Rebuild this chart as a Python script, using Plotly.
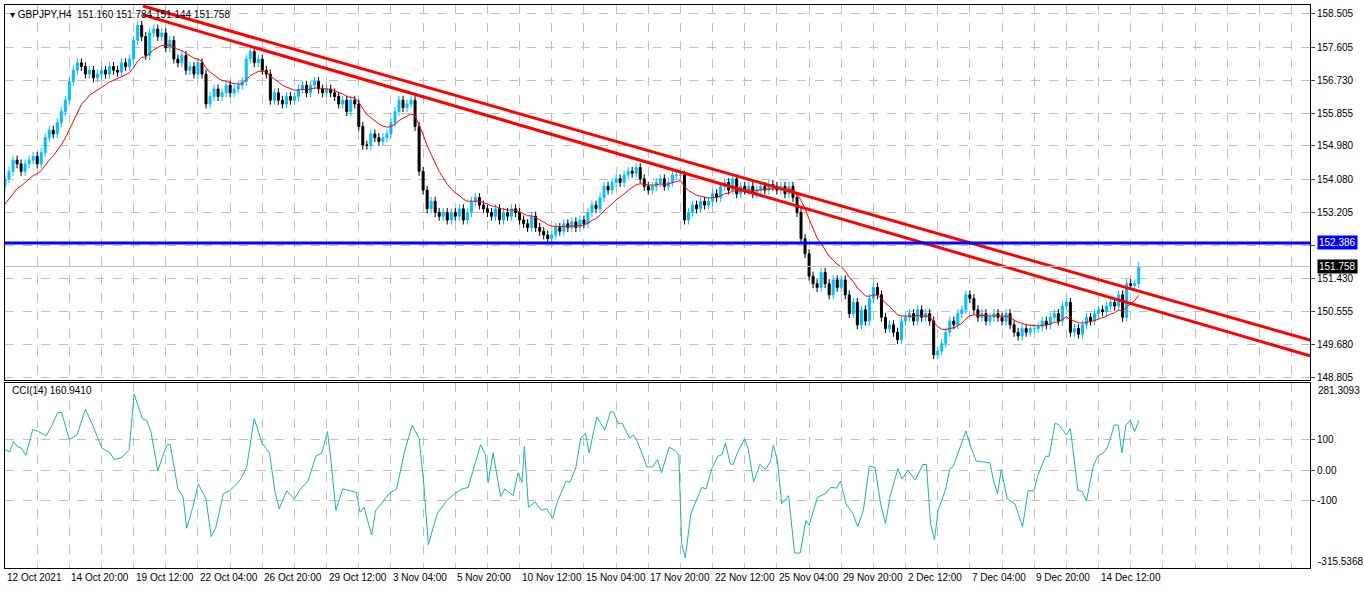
import plotly.graph_objects as go

closes = [
154.1,154.3,154.6,154.5,154.3,154.5,154.6,154.7,
154.5,154.8,155.2,155.4,155.3,155.6,155.9,156.2,
156.7,157.0,157.2,157.1,156.9,157.0,156.8,156.9,
157.0,156.9,157.1,157.0,156.95,157.2,157.1,157.3,
157.8,158.2,157.9,157.4,158.0,158.1,157.9,158.0,
157.6,157.8,157.3,157.2,157.4,157.0,157.1,156.9,
157.2,156.9,156.1,156.3,156.5,156.3,156.4,156.6,
156.4,156.5,156.6,156.7,157.3,157.5,157.2,157.3,
157.0,156.9,156.2,156.4,156.2,156.1,156.3,156.2,
156.3,156.5,156.6,156.4,156.6,156.7,156.5,156.4,
156.5,156.4,156.3,156.1,156.2,155.9,156.2,156.1,
155.5,155.0,155.0,155.3,155.2,155.1,155.2,155.3,
155.6,155.9,156.2,156.0,156.1,156.2,155.5,154.3,
153.8,153.3,153.5,153.2,153.1,153.2,153.0,153.2,
153.1,153.3,153.0,153.2,153.5,153.6,153.4,153.3,
153.2,153.1,153.3,153.0,153.2,153.1,153.3,153.2,
153.0,152.9,152.8,153.1,152.8,152.7,152.6,152.5,
152.6,152.8,152.7,152.9,152.8,152.95,152.8,153.0,
152.9,153.2,153.4,153.3,153.6,153.9,153.8,154.0,
154.1,154.0,154.2,154.3,154.25,154.4,154.1,153.9,
153.8,153.9,154.0,154.1,153.9,154.0,154.2,154.2,
154.2,153.0,153.2,153.4,153.3,153.5,153.4,153.5,
153.7,153.6,153.9,154.0,153.8,154.1,153.7,153.9,
153.8,153.9,153.7,153.8,153.9,153.8,153.95,153.9,
153.8,153.9,153.7,153.9,153.6,153.2,152.5,152.1,
151.5,151.3,151.2,151.6,151.3,151.0,151.4,151.2,
151.4,151.0,150.5,150.8,150.2,150.6,150.3,150.9,
151.2,151.0,150.4,150.1,150.2,150.0,149.8,150.3,
150.4,150.5,150.3,150.6,150.4,150.5,150.3,149.4,
149.5,149.7,150.0,150.3,150.2,150.5,150.6,151.0,
150.9,150.6,150.4,150.5,150.3,150.4,150.5,150.4,
150.3,150.5,150.2,150.0,149.9,150.1,150.0,150.1,
150.1,150.15,150.3,150.2,150.4,150.5,150.3,150.7,
150.8,150.0,150.1,149.95,150.2,150.4,150.3,150.5,
150.6,150.55,150.7,150.8,150.7,151.0,150.4,151.3,
151.25,151.3,151.758]
first_open = 153.9
wick = 0.12
ma_seed = 153.3
ma_period = 12

cci_bar = [0,1.2,2.1,3.1,4.0,5.2,6.9,8.3,10.3,11.7,13.1,14.1,16.0,17.9,20.0,21.8,24.1,26.1,27.2,28.9,30.9,32.1,34.2,35.2,36.3,38.0,39.5,40.4,41.1,43.0,44.3,45.2,46.7,48.1,50.0,51.3,52.4,53.4,54.3,55.8,57.2,58.6,60.1,62.0,63.0,63.9,65.8,67.1,68.2,70.1,72.0,73.5,75.4,77.3,78.8,80.2,81.0,82.3,84.0,86.0,87.4,88.3,89.3,91.2,92.2,93.6,95.5,97.4,99.4,101.3,103.0,104.1,105.3,107.5,109.9,111.8,113.7,115.2,118.3,119.5,120.2,121.4,123.3,124.3,126.4,127.6,128.6,129.2,130.2,131.9,133.4,134.8,136.2,137.5,139.6,140.5,142.0,143.2,144.4,145.3,147.2,148.7,
149.2,150.6,151.4,152.5,153.5,155.4,156.3,157.3,159.7,161.1,162.3,163.3,165.2,166.8,167.6,168.3,169.2,170.6,172.1,173.3,174.4,175.9,177.3,178.3,179.2,180.4,181.1,182.3,184.0,184.9,186.2,187.8,189.2,190.4,191.1,192.1,193.2,194.9,196.4,197.8,199.2,200.0,202.1,204.0,205.4,206.9,207.8,209.2,210.9,212.1,213.5,215.0,216.4,217.8,219.0,220.2,222.1,223.1,224.5,225.1,226.4,228.3,229.2,230.2,231.2,232.1,234.0,235.0,235.9,237.3,239.0,240.2,241.6,245.0,245.9,246.9,247.8,249.3,251.2,253.1,254.5,255.9,256.9,258.8,259.7,261.2,262.1,264.0,265.0,266.9,267.8,269.0,270.7,271.8,273.6,274.5,275.9,276.9,277.8,278.8,279.9,281.0,282.0]
cci_val = [67,59,93,77,72,48,133,126,112,147,188,188,99,115,199,147,72,56,34,40,67,249,167,163,126,-3,56,83,83,-62,-89,-191,-122,-46,-95,-218,-191,-127,-78,-68,-52,-30,8,169,126,88,56,-68,-127,-68,-95,-62,-36,45,56,126,40,-132,-62,-68,-73,-138,-122,-213,-132,-111,-78,-62,61,147,104,-36,-245,-143,-100,-78,-62,-57,83,50,-41,56,-87,-62,-84,-9,-41,77,-122,-105,-132,-127,-159,-100,-36,-41,8,104,120,56,174,142,
131,190,190,153,153,104,115,93,10,10,34,-9,75,63,50,-240,-288,-143,-95,-57,-62,8,45,50,88,20,18,61,102,67,-39,18,2,29,81,34,-111,-84,-272,-272,-165,-181,-89,-78,-57,-59,-36,-111,-143,-186,-132,13,8,-111,-175,-84,5,-30,-3,-9,-33,18,18,-175,-229,-132,-62,2,13,67,128,77,29,24,-36,-78,2,-95,-111,-186,-68,-68,-19,45,45,153,149,115,136,-68,-68,-100,13,45,61,83,147,147,56,147,163,126,160.94]

trend_upper = [(34.3, 158.72), (324.6, 149.79)]
trend_lower = [(34.3, 158.48), (324.6, 149.37)]
level_blue = 152.386
last_price = 151.758

price_ticks = [158.505,157.605,156.730,155.855,154.980,154.080,153.205,152.330,151.430,150.555,149.680,148.805]
price_labels = ["158.505","157.605","156.730","155.855","154.980","154.080","153.205","","151.430","150.555","149.680","148.805"]
cci_ticks = [100, 0, -100]
cci_labels = ["100", "0.00", "-100"]
date_labels = ["12 Oct 2021","14 Oct 20:00","19 Oct 12:00","22 Oct 04:00","26 Oct 20:00","29 Oct 12:00",
               "3 Nov 04:00","5 Nov 20:00","10 Nov 12:00","15 Nov 04:00","17 Nov 20:00","22 Nov 12:00",
               "25 Nov 04:00","29 Nov 20:00","2 Dec 12:00","7 Dec 04:00","9 Dec 20:00","14 Dec 12:00"]
label_step = 16
grid_step = 8

n = len(closes)
idx = list(range(n))
opens = [first_open] + closes[:-1]
highs = [max(o, c) + wick for o, c in zip(opens, closes)]
lows = [min(o, c) - wick for o, c in zip(opens, closes)]
ma = []
m = ma_seed
k = 2 / (ma_period + 1)
for c in closes:
    m = m + k * (c - m)
    ma.append(m)

W, H = 1364, 589
FONT = "Liberation Sans"
FS = 10
fig = go.Figure()
fig.add_trace(go.Candlestick(x=idx, open=opens, high=highs, low=lows, close=closes,
    increasing=dict(line=dict(color="#00BFFF", width=1), fillcolor="#00BFFF"),
    decreasing=dict(line=dict(color="#000000", width=1), fillcolor="#000000"),
    whiskerwidth=0, xaxis="x", yaxis="y", showlegend=False, hoverinfo="skip"))
fig.add_trace(go.Scatter(x=idx, y=ma, mode="lines", line=dict(color="#FF0000", width=1),
                         xaxis="x", yaxis="y", showlegend=False))
for t in (trend_upper, trend_lower):
    fig.add_trace(go.Scatter(x=[p[0] for p in t], y=[p[1] for p in t], mode="lines",
                             line=dict(color="#FF0000", width=3), xaxis="x", yaxis="y", showlegend=False))
fig.add_trace(go.Scatter(x=[0, 330], y=[level_blue]*2, mode="lines", line=dict(color="#0000FF", width=3),
                         xaxis="x", yaxis="y", showlegend=False))
fig.add_trace(go.Scatter(x=[0, 330], y=[last_price]*2, mode="lines", line=dict(color="#C0C0C0", width=1),
                         xaxis="x", yaxis="y", showlegend=False))
fig.add_trace(go.Scatter(x=cci_bar, y=cci_val, mode="lines", line=dict(color="#20B2AA", width=1),
                         xaxis="x2", yaxis="y2", showlegend=False))

xr = [0, 324.6]
grid_vals = list(range(0, 330, grid_step))
xcommon = dict(range=xr, tickvals=grid_vals, showticklabels=False, showgrid=True, gridcolor="#C0C0C0",
               griddash="dash", gridwidth=1, zeroline=False, showline=True, linecolor="black", mirror=True,
               domain=[5/W, 1310/W], ticks="", automargin=False)
ycommon = dict(side="right", showgrid=True, gridcolor="#C0C0C0", griddash="dash", showline=True,
               linecolor="black", mirror=True, ticks="outside", ticklen=4, zeroline=False, automargin=False,
               tickfont=dict(size=FS, family=FONT))
fig.update_layout(
    width=W, height=H, margin=dict(l=0, r=0, t=0, b=0, autoexpand=False),
    paper_bgcolor="white", plot_bgcolor="white",
    font=dict(family=FONT, size=FS, color="black"),
    xaxis=dict(**xcommon, anchor="y", rangeslider=dict(visible=False)),
    xaxis2=dict(**xcommon, anchor="y2"),
    yaxis=dict(**ycommon, domain=[1-380/H, 1-5/H], range=[148.725, 158.745], tickvals=price_ticks,
               ticktext=price_labels),
    yaxis2=dict(**ycommon, domain=[1-568/H, 1-383/H], range=[-321, 285], tickvals=cci_ticks,
                ticktext=cci_labels),
)
ann = []
for j, lab in enumerate(date_labels):
    ann.append(dict(x=j*label_step, y=1-577/H, xref="x2", yref="paper", text=lab, showarrow=False,
                    xanchor="left", yanchor="middle", font=dict(size=FS, family=FONT)))
ann.append(dict(x=1317/W, y=level_blue, xref="paper", yref="y", text="152.386", showarrow=False,
                xanchor="left", yanchor="middle", bgcolor="#0000FF", borderpad=1,
                font=dict(color="white", size=FS, family=FONT)))
ann.append(dict(x=1317/W, y=last_price, xref="paper", yref="y", text="151.758", showarrow=False,
                xanchor="left", yanchor="middle", bgcolor="#000000", borderpad=1,
                font=dict(color="white", size=FS, family=FONT)))
ann.append(dict(x=1316/W, y=1-390/H, xref="paper", yref="paper", text="281.3093", showarrow=False,
                xanchor="left", yanchor="middle", font=dict(size=FS, family=FONT)))
ann.append(dict(x=1316/W, y=1-561/H, xref="paper", yref="paper", text="-315.5368", showarrow=False,
                xanchor="left", yanchor="middle", font=dict(size=FS, family=FONT)))
ann.append(dict(x=8/W, y=1-14/H, xref="paper", yref="paper", text="▾ GBPJPY,H4  151.160 151.784 151.144 151.758",
                showarrow=False, xanchor="left", yanchor="middle", font=dict(size=FS, family=FONT)))
ann.append(dict(x=10/W, y=1-390/H, xref="paper", yref="paper", text="CCI(14) 160.9410",
                showarrow=False, xanchor="left", yanchor="middle", font=dict(size=FS, family=FONT)))
fig.update_layout(annotations=ann)
fig.write_html("out.html", config={"displayModeBar": False},
               post_script="document.body.style.margin='0';document.body.style.overflow='hidden';")
